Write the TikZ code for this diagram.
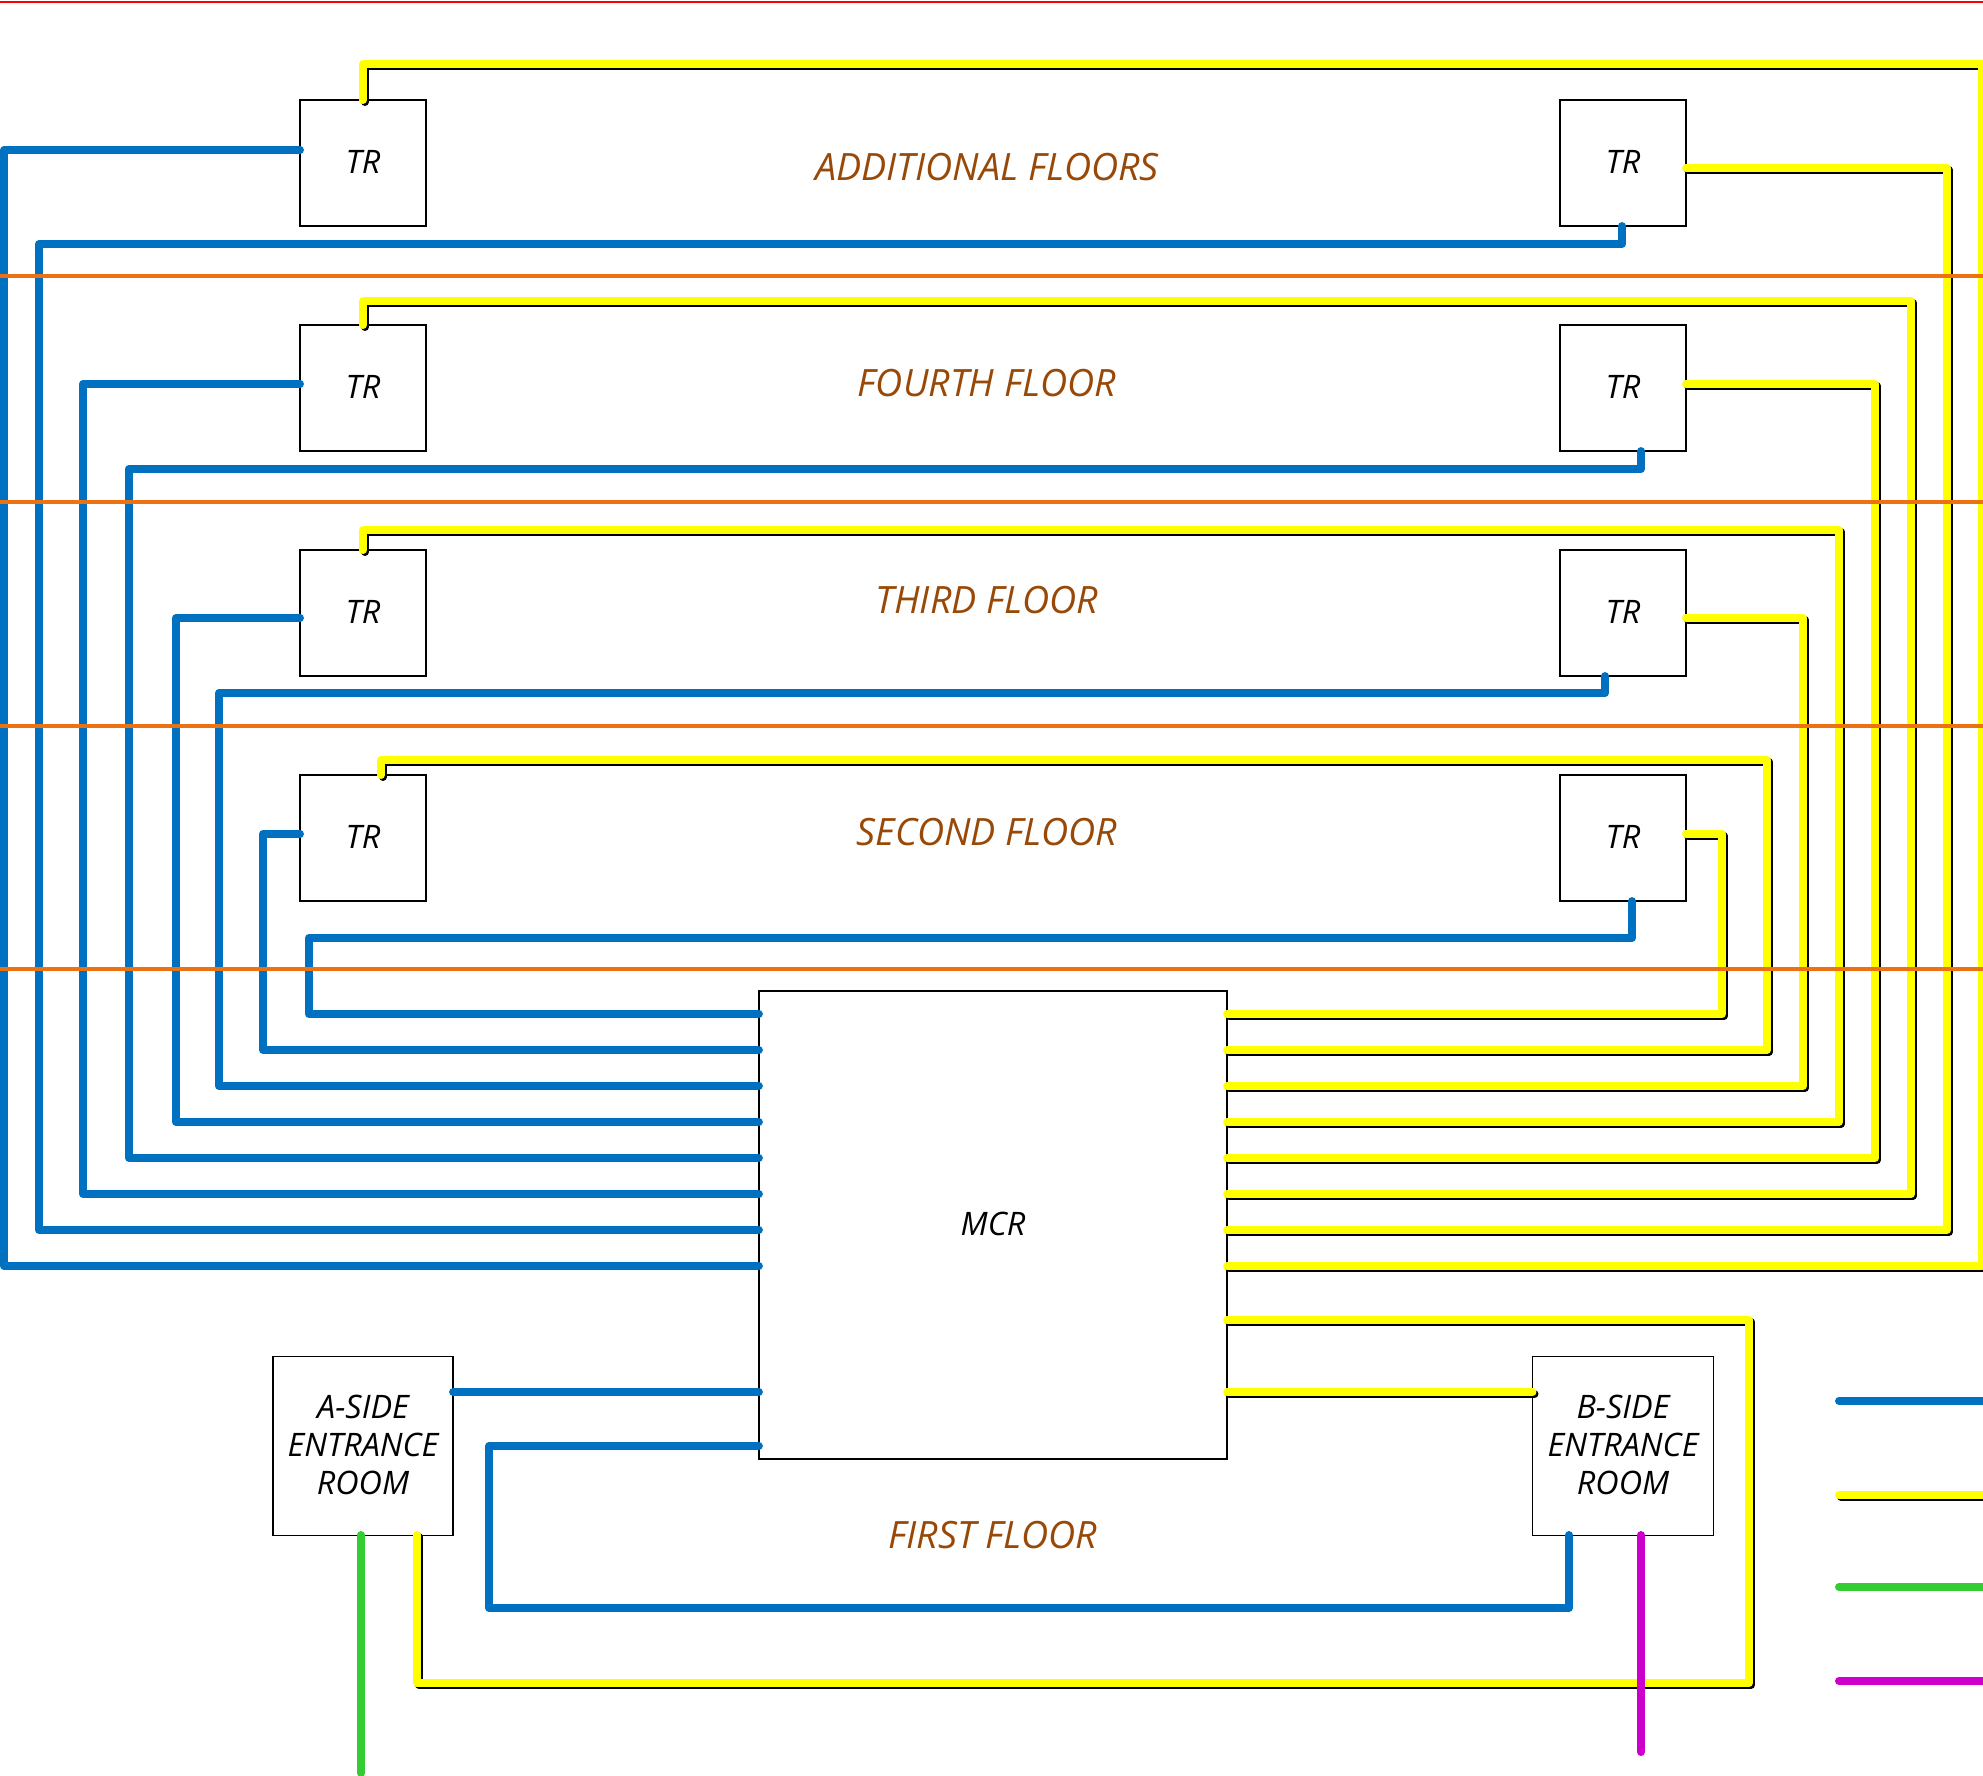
\documentclass[tikz,border=0pt]{standalone}
\usepackage{fontspec}
\setmainfont{Open Sans}
\usepackage{xcolor}
\usetikzlibrary{positioning}
\definecolor{wireblue}{HTML}{0070C0}
\definecolor{wireyellow}{HTML}{FFFF00}
\definecolor{wiregreen}{HTML}{33CC33}
\definecolor{wiremagenta}{HTML}{CC00CC}
\definecolor{floorbrown}{HTML}{984807}
\definecolor{floororange}{HTML}{ED7110}
\newcommand{\yellowrun}[1]{%
  \draw[wire, draw=black, transform canvas={xshift=0.02cm, yshift=-0.02cm}] #1;
  \draw[wire, draw=wireyellow] #1;}

\begin{document}
\begin{tikzpicture}[x=0.01cm, y=-0.01cm,
    every node/.style={font=\itshape\fontsize{9.2}{10.7}\selectfont, inner sep=0, outer sep=0},
    room/.style={draw=black, line width=0.016cm, align=center, text depth=0.025cm},
    trroom/.style={room, minimum width=1.26cm, minimum height=1.26cm},
    floorlabel/.style={text=floorbrown, font=\itshape\fontsize{10.7}{13}\selectfont},
    wire/.style={line width=0.08cm, line cap=round, line join=round},
    bluewire/.style={wire, draw=wireblue},
    floorline/.style={draw=floororange, line width=0.035cm}]
\useasboundingbox (0,0) rectangle (1983,1775);

% Rooms on the additional floors
\node[trroom] (traddA) at (363,163) {TR};
\node[trroom] (traddB) at (1623,163) {TR};
\node[floorlabel] (lbladd) at (987,167) {ADDITIONAL FLOORS};

% Rooms on the fourth floor
\node[trroom] (trfourA) at (363,388) {TR};
\node[trroom] (trfourB) at (1623,388) {TR};
\node[floorlabel] (lblfour) at (987,383) {FOURTH FLOOR};

% Rooms on the third floor
\node[trroom] (trthreeA) at (363,613) {TR};
\node[trroom] (trthreeB) at (1623,613) {TR};
\node[floorlabel] (lblthree) at (987,600) {THIRD FLOOR};

% Rooms on the second floor
\node[trroom] (trtwoA) at (363,838) {TR};
\node[trroom] (trtwoB) at (1623,838) {TR};
\node[floorlabel] (lbltwo) at (987,832) {SECOND FLOOR};

% Rooms on the first floor
\node[room, minimum width=4.68cm, minimum height=4.68cm] (mcr) at (993,1225) {MCR};
\node[room, minimum width=1.80cm, minimum height=1.79cm] (asideroom) at (363,1446) {A-SIDE\\ENTRANCE\\ROOM};
\node[room, minimum width=1.81cm, minimum height=1.79cm] (bsideroom) at (1623,1446) {B-SIDE\\ENTRANCE\\ROOM};
\node[floorlabel] (lblone) at (993,1535) {FIRST FLOOR};

% Wires sit one unit lower than the rooms
\begin{scope}[yshift=-0.01cm]
% Free ends of the feeds and the key
\coordinate (greenend) at (361,1772);
\coordinate (magentaend) at (1641,1751);
\coordinate (keyblueA) at (1839,1400);
\coordinate (keyblueB) at (1995,1400);
\coordinate (keyyellowA) at (1839,1494);
\coordinate (keyyellowB) at (1995,1494);
\coordinate (keygreenA) at (1839,1586);
\coordinate (keygreenB) at (1995,1586);
\coordinate (keymagentaA) at (1839,1680);
\coordinate (keymagentaB) at (1995,1680);

% Yellow runs, outermost first
\yellowrun{(traddA.north -| 363,101) -- (363,63) -- (1982,63) -- (1982,1265) -- (mcr.east |- 0,1265)}
\yellowrun{(traddB.east |- 0,167) -- (1947,167) -- (1947,1229) -- (mcr.east |- 0,1229)}
\yellowrun{(trfourA.north -| 363,327) -- (363,300) -- (1911,300) -- (1911,1193) -- (mcr.east |- 0,1193)}
\yellowrun{(trfourB.east |- 0,383) -- (1875,383) -- (1875,1157) -- (mcr.east |- 0,1157)}
\yellowrun{(trthreeA.north -| 363,552) -- (363,529) -- (1839,529) -- (1839,1121) -- (mcr.east |- 0,1121)}
\yellowrun{(trthreeB.east |- 0,617) -- (1803,617) -- (1803,1085) -- (mcr.east |- 0,1085)}
\yellowrun{(trtwoA.north -| 381,777) -- (381,759) -- (1767,759) -- (1767,1049) -- (mcr.east |- 0,1049)}
\yellowrun{(trtwoB.east |- 0,833) -- (1722,833) -- (1722,1013) -- (mcr.east |- 0,1013)}

% Blue runs, outermost first
\draw[bluewire] (traddA.west |- 0,149) -- (4,149) -- (4,1265) -- (mcr.west |- 0,1265);
\draw[bluewire] (traddB.south -| 1622,226) -- (1622,243) -- (39,243) -- (39,1229) -- (mcr.west |- 0,1229);
\draw[bluewire] (trfourA.west |- 0,383) -- (83,383) -- (83,1193) -- (mcr.west |- 0,1193);
\draw[bluewire] (trfourB.south -| 1641,451) -- (1641,468) -- (129,468) -- (129,1157) -- (mcr.west |- 0,1157);
\draw[bluewire] (trthreeA.west |- 0,617) -- (176,617) -- (176,1121) -- (mcr.west |- 0,1121);
\draw[bluewire] (trthreeB.south -| 1605,676) -- (1605,692) -- (219,692) -- (219,1085) -- (mcr.west |- 0,1085);
\draw[bluewire] (trtwoA.west |- 0,833) -- (263,833) -- (263,1049) -- (mcr.west |- 0,1049);
\draw[bluewire] (trtwoB.south -| 1632,901) -- (1632,937) -- (309,937) -- (309,1013) -- (mcr.west |- 0,1013);

% First floor runs
\draw[bluewire] (asideroom.east |- 0,1391) -- (mcr.west |- 0,1391);
\draw[bluewire] (mcr.west |- 0,1445) -- (489,1445) -- (489,1607) -- (1569,1607) -- (1569,1534);
\yellowrun{(mcr.east |- 0,1391) -- (bsideroom.west |- 0,1391)}
\yellowrun{(mcr.east |- 0,1319) -- (1749,1319) -- (1749,1682) -- (417,1682) -- (417,1534)}

% Feeds leaving the entrance rooms
\draw[wire, draw=wiregreen] (361,1534) -- (greenend);
\draw[wire, draw=wiremagenta] (1641,1534) -- (magentaend);

% Key
\draw[bluewire] (keyblueA) -- (keyblueB);
\yellowrun{(keyyellowA) -- (keyyellowB)}
\draw[wire, draw=wiregreen] (keygreenA) -- (keygreenB);
\draw[wire, draw=wiremagenta] (keymagentaA) -- (keymagentaB);

% Floor lines
\draw[floorline] (0,275) -- (1983,275);
\draw[floorline] (0,501) -- (1983,501);
\draw[floorline] (0,725) -- (1983,725);
\draw[floorline] (0,968) -- (1983,968);
\end{scope}
\draw[draw=red, line width=0.017cm] (0,2) -- (1983,2);
\end{tikzpicture}
\end{document}
